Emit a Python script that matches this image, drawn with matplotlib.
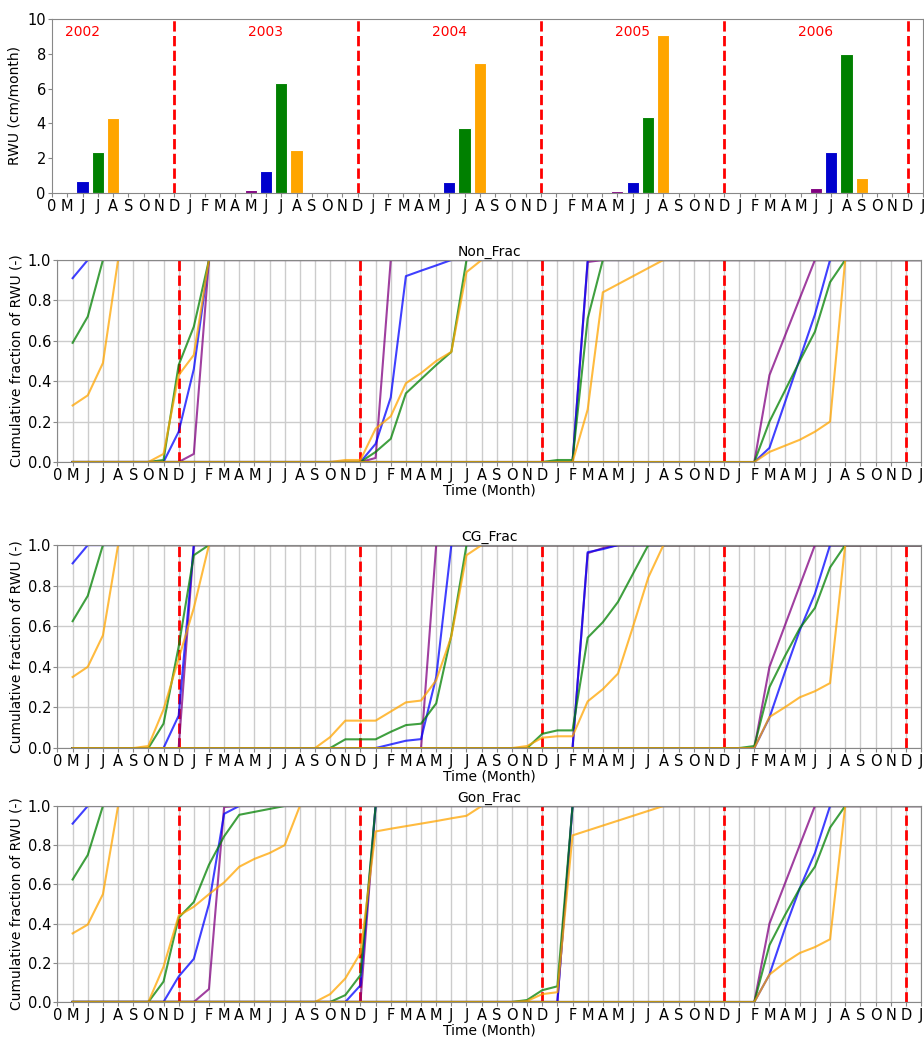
import numpy as np
import matplotlib
matplotlib.use("Agg")
import matplotlib.pyplot as plt

# month axis: 0 = start, 1 = May 2002 ... 57 = Jan 2007
month_labels = ['0', 'M', 'J', 'J', 'A', 'S', 'O', 'N', 'D'] + \
    ['J', 'F', 'M', 'A', 'M', 'J', 'J', 'A', 'S', 'O', 'N', 'D'] * 4 + ['J']
dec_lines = [8, 20, 32, 44, 56]
years = ['2002', '2003', '2004', '2005', '2006']
year_pos = [2, 14, 26, 38, 50]

# monthly RWU bars (cm/month)
purple_m = [1, 13, 25, 37, 50]
purple_rwu = [0.04, 0.19, 0.08, 0.12, 0.31]
blue_m = [2, 14, 26, 38, 51]
blue_rwu = [0.69, 1.25, 0.65, 0.65, 2.38]
green_m = [3, 15, 27, 39, 52]
green_rwu = [2.38, 6.33, 3.72, 4.37, 7.97]
orange_m = [4, 16, 28, 40, 53]
orange_rwu = [4.33, 2.46, 7.49, 9.05, 0.88]

# cumulative fraction curves: (first month, values); 0 before, 1 after
non_purple = [(1, [1.0]), (8, [0, 0.04, 1.0]), (20, [0, 0.02, 1.0]),
              (34, [0, 0.99, 1.0]), (46, [0, 0.43, 0.62, 0.81, 1.0])]
non_blue = [(1, [0.91, 1.0]), (7, [0, 0.15, 0.46, 1.0]),
            (20, [0, 0.09, 0.32, 0.92, 0.947, 0.973, 1.0]), (34, [0, 1.0]),
            (46, [0, 0.07, 0.29, 0.51, 0.73, 1.0])]
non_green = [(1, [0.59, 0.72, 1.0]), (6, [0, 0.01, 0.48, 0.67, 1.0]),
             (20, [0, 0.05, 0.115, 0.34, 0.41, 0.48, 0.545, 1.0]),
             (32, [0, 0.01, 0.01, 0.71, 1.0]),
             (46, [0, 0.2, 0.35, 0.5, 0.645, 0.89, 1.0])]
non_orange = [(1, [0.28, 0.33, 0.49, 1.0]), (6, [0, 0.04, 0.43, 0.53, 1.0]),
              (17, [0, 0, 0.01, 0.01, 0.165, 0.226, 0.39, 0.44, 0.5, 0.545, 0.94, 1.0]),
              (34, [0, 0.26, 0.84, 0.88, 0.92, 0.96, 1.0]),
              (46, [0, 0.05, 0.08, 0.11, 0.15, 0.2, 1.0])]

cg_purple = [(1, [1.0]), (8, [0, 1.0]), (24, [0, 1.0]),
             (34, [0, 0.96, 0.985, 1.0]), (46, [0, 0.40, 0.60, 0.80, 1.0])]
cg_blue = [(1, [0.91, 1.0]), (7, [0, 0.16, 1.0]),
           (21, [0, 0.018, 0.036, 0.044, 0.35, 1.0]),
           (34, [0, 0.965, 0.98, 1.0]), (46, [0, 0.15, 0.37, 0.58, 0.76, 1.0])]
cg_green = [(1, [0.625, 0.75, 1.0]), (6, [0, 0.12, 0.5, 0.95, 1.0]),
            (18, [0, 0.043, 0.043, 0.043, 0.08, 0.113, 0.12, 0.22, 0.556, 1.0]),
            (31, [0, 0.07, 0.087, 0.087, 0.544, 0.62, 0.72, 0.86, 1.0]),
            (45, [0, 0.01, 0.30, 0.45, 0.59, 0.69, 0.89, 1.0])]
cg_orange = [(1, [0.35, 0.40, 0.555, 1.0]), (5, [0, 0.01, 0.19, 0.44, 0.69, 1.0]),
             (17, [0, 0.054, 0.135, 0.135, 0.135, 0.18, 0.225, 0.234, 0.334, 0.55, 0.95, 1.0]),
             (30, [0, 0.01, 0.051, 0.058, 0.058, 0.23, 0.29, 0.367, 0.6, 0.84, 1.0]),
             (46, [0, 0.153, 0.2, 0.25, 0.28, 0.32, 1.0])]

gon_purple = [(1, [1.0]), (9, [0, 0.066, 0.995, 1.0]), (20, [0, 1.0]),
              (33, [0, 1.0]), (46, [0, 0.40, 0.60, 0.80, 1.0])]
gon_blue = [(1, [0.91, 1.0]), (7, [0, 0.13, 0.22, 0.50, 0.96, 1.0]),
            (19, [0, 0.085, 1.0]), (33, [0, 1.0]),
            (46, [0, 0.14, 0.37, 0.58, 0.76, 1.0])]
gon_green = [(1, [0.625, 0.75, 1.0]),
             (6, [0, 0.104, 0.43, 0.51, 0.70, 0.845, 0.955, 0.97, 0.985, 1.0]),
             (18, [0, 0.035, 0.137, 1.0]), (30, [0, 0.01, 0.06, 0.08, 1.0]),
             (46, [0, 0.29, 0.44, 0.58, 0.69, 0.89, 1.0])]
gon_orange = [(1, [0.35, 0.395, 0.55, 1.0]),
              (6, [0, 0.18, 0.44, 0.486, 0.55, 0.61, 0.69, 0.73, 0.76, 0.80, 1.0]),
              (17, [0, 0.04, 0.12, 0.25, 0.87, 0.884, 0.897, 0.91, 0.923, 0.937, 0.95, 1.0]),
              (30, [0, 0.005, 0.04, 0.05, 0.85, 0.875, 0.9, 0.925, 0.95, 0.975, 1.0]),
              (46, [0, 0.14, 0.2, 0.25, 0.28, 0.32, 1.0])]

bar_colors = ['purple', 'mediumblue', 'green', 'orange']
line_colors = ['purple', 'blue', 'green', 'orange']
last_month = 57


def full_curve(start, vals):
    x = np.arange(1, last_month + 1)
    y = np.ones(len(x))
    y[x < start] = 0.0
    y[start - 1:start - 1 + len(vals)] = vals
    return x, y


def style_axis(ax):
    ax.set_xlim(0, last_month)
    ax.set_xticks(range(len(month_labels)))
    ax.set_xticklabels(month_labels)
    ax.tick_params(labelsize=10.5, color='#888888', length=3, pad=1.5)
    for s in ax.spines.values():
        s.set_color('#888888')


fig = plt.figure(figsize=(9.24, 10.42), dpi=100)

# top: monthly RWU bars
ax0 = fig.add_axes([0.0563, 0.8148, 0.9426, 0.167])
for m, v, c in zip([purple_m, blue_m, green_m, orange_m],
                   [purple_rwu, blue_rwu, green_rwu, orange_rwu], bar_colors):
    ax0.bar(m, v, width=0.8, color=c, edgecolor='white', linewidth=0.8)
for d in dec_lines:
    ax0.axvline(d, color='red', ls='--', lw=2)
for yr, xp in zip(years, year_pos):
    ax0.text(xp, 9.25, yr, color='red', fontsize=10, ha='center', va='center')
ax0.set_ylim(0, 10)
ax0.set_ylabel('RWU (cm/month)', fontsize=10, labelpad=4)
style_axis(ax0)

panels = [
    ('Non_Frac', [non_purple, non_blue, non_green, non_orange], [0.0622, 0.5566, 0.9345, 0.1939]),
    ('CG_Frac', [cg_purple, cg_blue, cg_green, cg_orange], [0.0622, 0.2821, 0.9345, 0.1948]),
    ('Gon_Frac', [gon_purple, gon_blue, gon_green, gon_orange], [0.0622, 0.0384, 0.9345, 0.1881]),
]

for title, series, pos in panels:
    ax = fig.add_axes(pos)
    ax.grid(True, color='#cccccc', lw=1)
    ax.set_axisbelow(True)
    for d in dec_lines:
        ax.axvline(d, color='red', ls='--', lw=2, zorder=1)
    for k in range(5):
        for segs, c in zip(series, line_colors):
            x, y = full_curve(*segs[k])
            ax.plot(x, y, color=c, lw=1.5, alpha=0.75, zorder=2)
    ax.set_ylim(0, 1)
    ax.set_yticks([0, 0.2, 0.4, 0.6, 0.8, 1.0])
    ax.set_title(title, fontsize=10, pad=3)
    ax.set_xlabel('Time (Month)', fontsize=10, labelpad=0.5)
    ax.set_ylabel('Cumulative fraction of RWU (-)', fontsize=10, labelpad=3)
    style_axis(ax)

fig.savefig('out.png', dpi=100)
